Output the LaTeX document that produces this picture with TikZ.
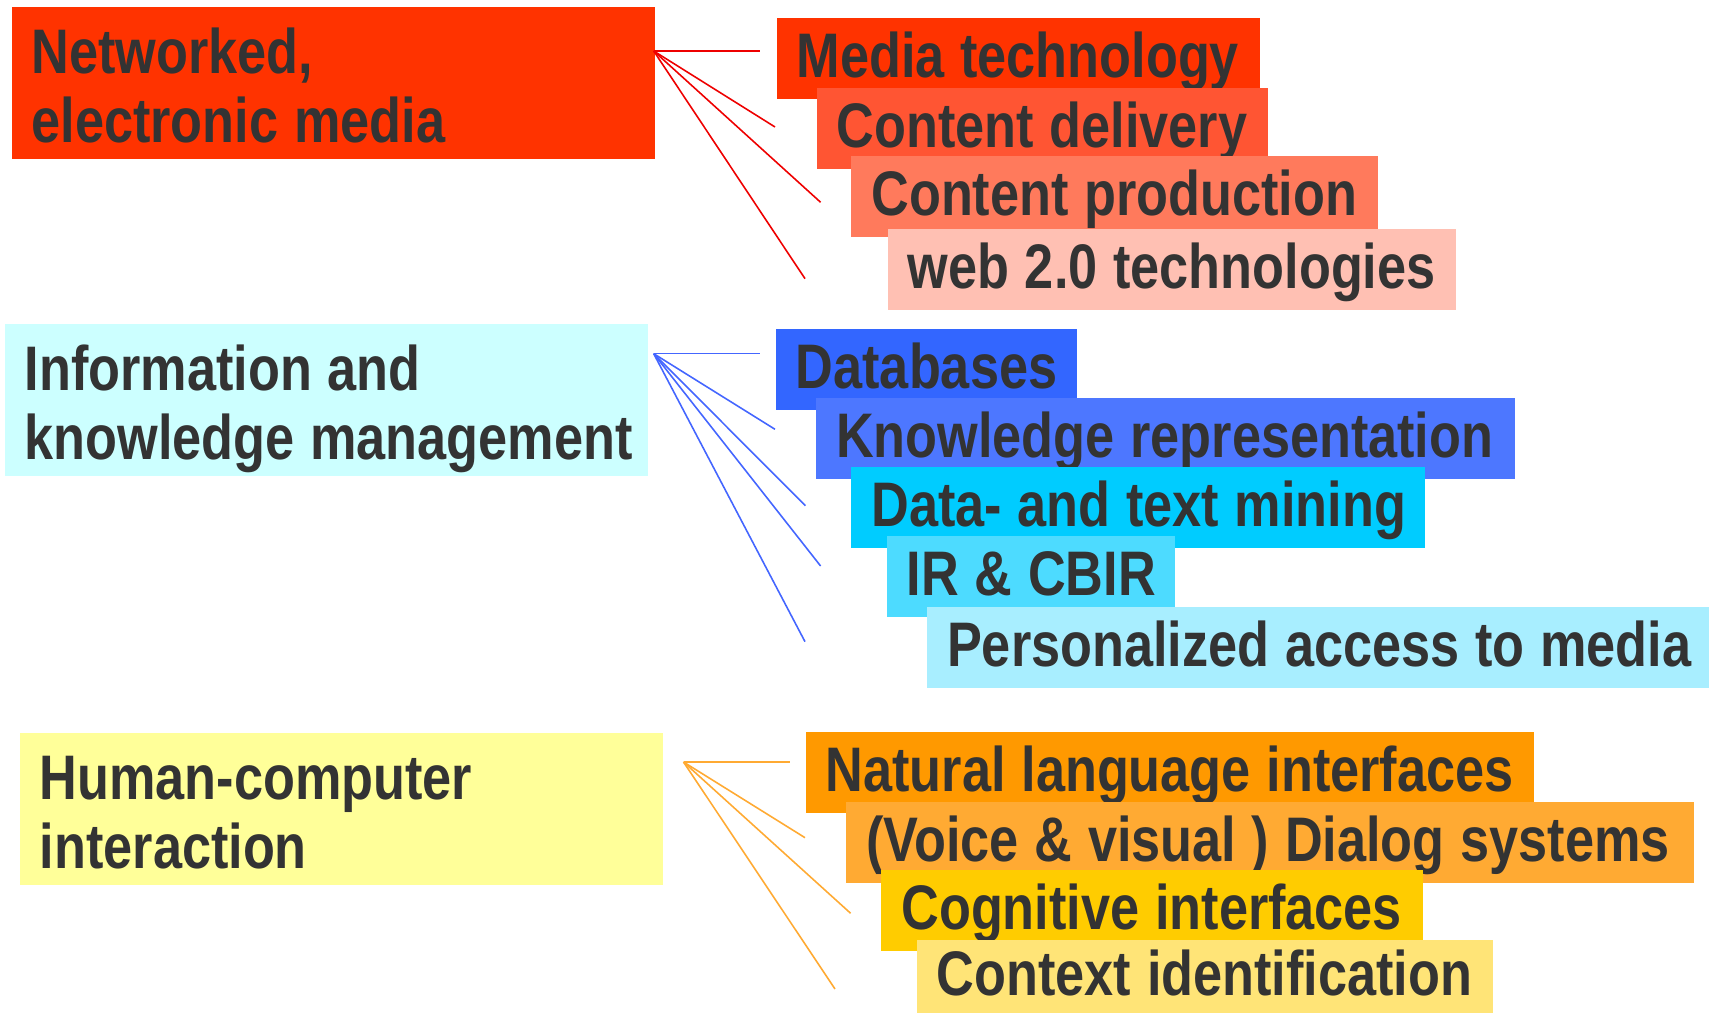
\documentclass[tikz,border=0pt]{standalone}
\usepackage{fontspec}
\setmainfont{Liberation Sans}[FakeStretch=0.83]

\definecolor{txt}{HTML}{333333}
\definecolor{netred}{HTML}{FF3300}
\definecolor{cdred}{HTML}{FF5533}
\definecolor{cpred}{HTML}{FF7A5C}
\definecolor{webred}{HTML}{FFC0B3}
\definecolor{redline}{HTML}{EE0000}
\definecolor{infocyan}{HTML}{CCFFFF}
\definecolor{dbblue}{HTML}{3366FF}
\definecolor{krblue}{HTML}{4D77FF}
\definecolor{dtmcyan}{HTML}{00CCFF}
\definecolor{ircyan}{HTML}{4DDBFF}
\definecolor{pamcyan}{HTML}{A8EEFF}
\definecolor{blueline}{HTML}{4466FF}
\definecolor{hciyellow}{HTML}{FFFF99}
\definecolor{nliorange}{HTML}{FF9900}
\definecolor{vdsorange}{HTML}{FFAA33}
\definecolor{ciyellow}{HTML}{FFCC00}
\definecolor{ctxyellow}{HTML}{FFE477}
\definecolor{orangeline}{HTML}{FFAA33}

\begin{document}
\begin{tikzpicture}[x=0.01cm, y=-0.01cm, line width=0.45pt,
    every node/.style={font=\fontsize{17.9}{19.6}\selectfont\bfseries,
      text=txt, anchor=north west, inner xsep=0.2cm, inner ysep=0pt,
      align=left}]

  \tikzstyle{topic}=[minimum height=1.517cm, text height=0.54cm,
  text depth=0.73cm, text width=6.03cm,
  execute at begin node={\spaceskip=0.25em\hyphenpenalty=10000 }]
  \tikzstyle{item}=[minimum height=0.807cm, text height=0.48cm,
  text depth=0.1cm, execute at begin node={\spaceskip=0.25em\hbox\bgroup},
  execute at end node={\egroup}]

  \useasboundingbox (0,0) rectangle (1709,1013);

  % networked media
  \node[topic, fill=netred] (NET) at (10.8,6) {Networked,\\electronic\nobreak{} media};
  \node[item, fill=netred, text width=4.43cm] (MT) at (775.7,17) {Media technology};
  \node[item, fill=cdred, text width=4.11cm] (CD) at (815.9,87) {Content delivery};
  \node[item, fill=cpred, text width=4.86cm] (CP) at (850.6,155) {Content production};
  \node[item, fill=webred, text width=5.28cm] (WEB) at (886.8,228) {web 2.0 technologies};

  \coordinate (netfan) at (653.7,51);
  \coordinate (mtend) at (760.4,51);
  \coordinate (cdend) at (775,127);
  \coordinate (cpend) at (820.6,202.3);
  \coordinate (webend) at (805,278.7);

  \draw[redline] (netfan) edge (mtend) edge (cdend) edge (cpend) edge (webend);

  % information and knowledge
  \node[topic, fill=infocyan] (INFO) at (3.8,323) {Information\nobreak{} and\\knowledge\nobreak{} management};
  \node[item, fill=dbblue, text width=2.61cm] (DB) at (775,328) {Databases};
  \node[item, fill=krblue, text width=6.59cm] (KR) at (815.2,397) {Knowledge representation};
  \node[item, fill=dtmcyan, text width=5.33cm] (DTM) at (850.6,466) {Data- and text mining};
  \node[item, fill=ircyan, text width=2.48cm] (IR) at (886,535) {IR \& CBIR};
  \node[item, fill=pamcyan, text width=7.43cm] (PAM) at (926.3,606) {Personalized access to media};

  \coordinate (infofan) at (653.7,353.7);
  \coordinate (dbend) at (760.4,353.7);
  \coordinate (krend) at (775,429.3);
  \coordinate (dtmend) at (805.4,505.7);
  \coordinate (irend) at (820.6,566);
  \coordinate (pamend) at (805,641.7);

  \draw[blueline] (infofan) edge (dbend) edge (krend) edge (dtmend)
  edge (irend) edge (pamend);

  % human-computer interaction
  \node[topic, fill=hciyellow] (HCI) at (19,732) {Human-computer\\interaction};
  \node[item, fill=nliorange, text width=6.88cm] (NLI) at (805,731) {Natural language interfaces};
  \node[item, fill=vdsorange, text width=8.07cm] (VDS) at (845.2,801) {(Voice \& visual ) Dialog systems};
  \node[item, fill=ciyellow, text width=5.01cm] (CI) at (880.6,869) {Cognitive interfaces};
  \node[item, fill=ctxyellow, text width=5.36cm, minimum height=0.74cm] (CTX) at (916,939) {Context identification};

  \coordinate (hcifan) at (683.5,762);
  \coordinate (nliend) at (790,762);
  \coordinate (vdsend) at (805,837.7);
  \coordinate (ciend) at (850.6,913.3);
  \coordinate (ctxend) at (835,989);

  \draw[orangeline] (hcifan) edge (nliend) edge (vdsend) edge (ciend) edge (ctxend);
\end{tikzpicture}
\end{document}
